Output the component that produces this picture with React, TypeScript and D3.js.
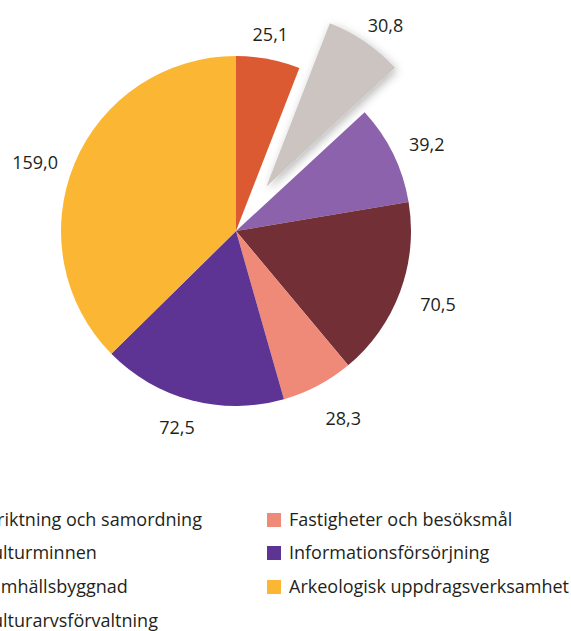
import React, { useEffect, useRef } from "react";
import * as d3 from "d3";

const categories = [
  "Inriktning och samordning",
  "Kulturminnen",
  "Samhällsbyggnad",
  "Kulturarvsförvaltning",
  "Fastigheter och besöksmål",
  "Informationsförsörjning",
  "Arkeologisk uppdragsverksamhet",
];
const values = [25.1, 30.8, 39.2, 70.5, 28.3, 72.5, 159.0];
const labels = ["25,1", "30,8", "39,2", "70,5", "28,3", "72,5", "159,0"];
const colors = ["#DC5A32", "#CBC4C1", "#8B62AB", "#722F36", "#EF8A79", "#5D3494", "#FBB733"];
const exploded = [false, true, false, false, false, false, false];

// hand placement of the value labels, as in the original layout
const labelNudge = [[-4, 8], [2, 11], [4, 5], [7, 2], [10, 4], [-6, -4], [-9, 12]];

export default function App() {
  const svgRef = useRef<SVGSVGElement>(null);

  useEffect(() => {
    document.body.style.margin = "0";
    const svg = d3.select(svgRef.current);
    svg.selectAll("*").remove();

    const cx = 236, cy = 231, r = 175, labelR = 208, pull = 54;
    const font = "'Open Sans', 'Noto Sans', sans-serif";

    const defs = svg.append("defs");
    const f = defs.append("filter").attr("id", "shadow").attr("x", "-30%").attr("y", "-30%").attr("width", "160%").attr("height", "160%");
    f.append("feDropShadow").attr("dx", 2).attr("dy", 3).attr("stdDeviation", 5).attr("flood-color", "#000").attr("flood-opacity", 0.28);

    const pie = d3.pie<number>().value(d => d).sort(null);
    const arcs = pie(values);
    const arc = d3.arc<d3.PieArcDatum<number>>().innerRadius(0).outerRadius(r);

    const g = svg.append("g").attr("transform", `translate(${cx},${cy})`);

    const mid = (d: d3.PieArcDatum<number>) => (d.startAngle + d.endAngle) / 2;
    const off = (d: d3.PieArcDatum<number>, i: number) => {
      if (!exploded[i]) return [0, 0];
      return [Math.sin(mid(d)) * pull, -Math.cos(mid(d)) * pull];
    };

    g.selectAll("path.slice")
      .data(arcs)
      .join("path")
      .attr("class", "slice")
      .attr("d", arc)
      .attr("fill", (_, i) => colors[i])
      .attr("filter", (_, i) => (exploded[i] ? "url(#shadow)" : null))
      .attr("transform", (d, i) => {
        const [dx, dy] = off(d, i);
        return `translate(${dx},${dy})`;
      });

    g.selectAll("text.lbl")
      .data(arcs)
      .join("text")
      .attr("class", "lbl")
      .attr("x", (d, i) => Math.sin(mid(d)) * labelR + off(d, i)[0] + labelNudge[i][0])
      .attr("y", (d, i) => -Math.cos(mid(d)) * labelR + off(d, i)[1] + labelNudge[i][1])
      .attr("dy", "0.35em")
      .attr("text-anchor", "middle")
      .attr("font-family", font)
      .attr("font-size", 18)
      .attr("fill", "#231f20")
      .text((_, i) => labels[i]);

    // legend, two columns, the left one runs past the frame edge like the source
    const colX = [-41, 267];
    const rowY = [520, 553, 587, 621];
    const leg = svg.append("g");
    categories.forEach((c, i) => {
      const col = i < 4 ? 0 : 1;
      const row = i < 4 ? i : i - 4;
      const item = leg.append("g").attr("transform", `translate(${colX[col]},${rowY[row]})`);
      item.append("rect").attr("x", 0).attr("y", -7).attr("width", 14).attr("height", 14).attr("fill", colors[i]);
      item.append("text")
        .attr("x", 22)
        .attr("dy", "0.35em")
        .attr("font-family", font)
        .attr("font-size", 18)
        .attr("fill", "#231f20")
        .text(c);
    });
  }, []);

  return <svg ref={svgRef} width={571} height={631} style={{ display: "block" }} />;
}
